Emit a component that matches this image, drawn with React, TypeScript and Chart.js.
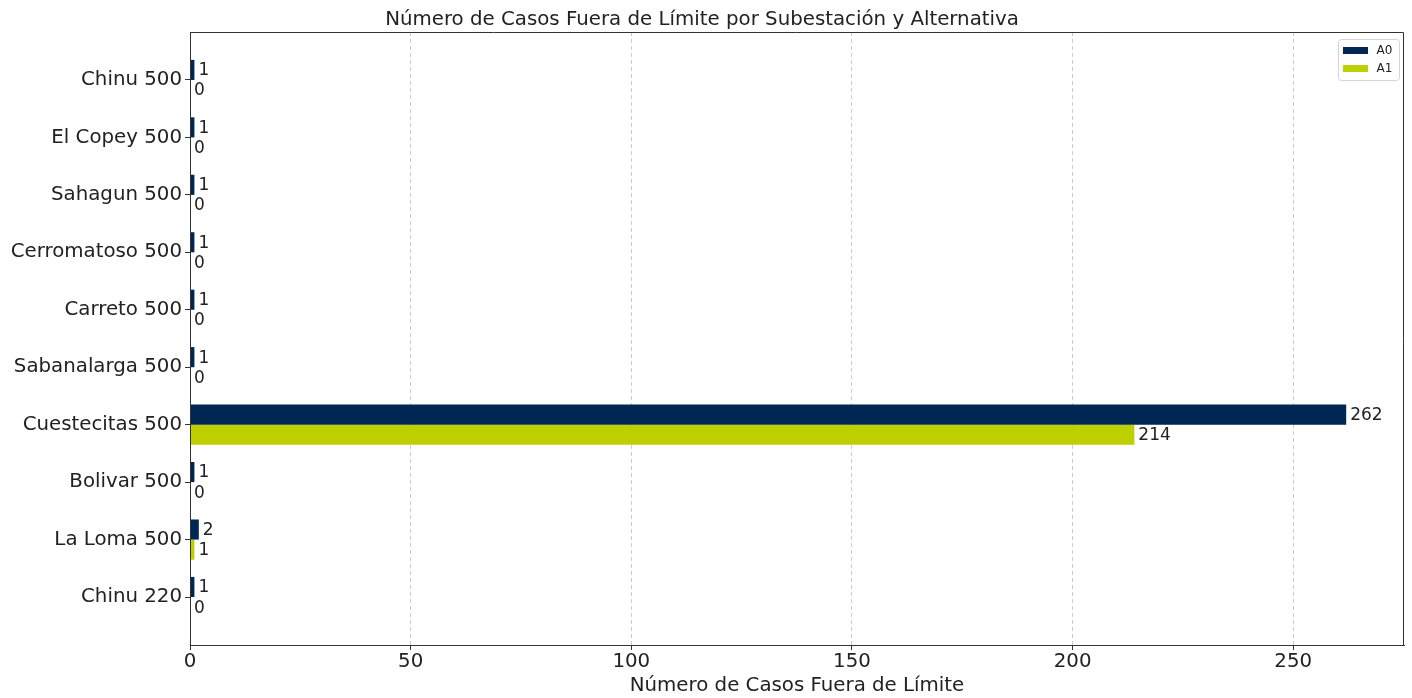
import React, { useEffect, useRef } from "react";
import { Chart, registerables } from "chart.js";

Chart.register(...registerables);

const categories = [
  "Chinu 500",
  "El Copey 500",
  "Sahagun 500",
  "Cerromatoso 500",
  "Carreto 500",
  "Sabanalarga 500",
  "Cuestecitas 500",
  "Bolivar 500",
  "La Loma 500",
  "Chinu 220",
];
const seriesA0 = [1, 1, 1, 1, 1, 1, 262, 1, 2, 1];
const seriesA1 = [0, 0, 0, 0, 0, 0, 214, 0, 1, 0];
const seriesNames = ["A0", "A1"];
const seriesColors = ["#002654", "#bfd000"];
const xTicks = [0, 50, 100, 150, 200, 250];

const FONT = "'DejaVu Sans', sans-serif";
const TEXT = "#222222";

const framePlugin = {
  id: "frame",
  afterDatasetsDraw(chart: any) {
    const { ctx, chartArea } = chart;
    ctx.save();
    ctx.strokeStyle = "#333333";
    ctx.lineWidth = 1;
    ctx.setLineDash([]);
    ctx.beginPath();
    ctx.moveTo(chartArea.left, chartArea.top + 0.5);
    ctx.lineTo(chartArea.right - 0.5, chartArea.top + 0.5);
    ctx.lineTo(chartArea.right - 0.5, chartArea.bottom);
    ctx.stroke();
    ctx.beginPath();
    ctx.moveTo(chartArea.left + 0.5, chartArea.top);
    ctx.lineTo(chartArea.left + 0.5, chartArea.bottom + 0.5);
    ctx.lineTo(chartArea.right, chartArea.bottom + 0.5);
    ctx.stroke();
    ctx.restore();
  },
};

const valueLabelPlugin = {
  id: "valueLabels",
  afterDatasetsDraw(chart: any) {
    const { ctx } = chart;
    ctx.save();
    ctx.font = `17px ${FONT}`;
    ctx.fillStyle = TEXT;
    ctx.textAlign = "left";
    ctx.textBaseline = "middle";
    chart.data.datasets.forEach((ds: any, di: number) => {
      const meta = chart.getDatasetMeta(di);
      meta.data.forEach((bar: any, i: number) => {
        const v = ds.data[i].x;
        ctx.fillText(String(v), bar.x + 4, bar.y + 1);
      });
    });
    ctx.restore();
  },
};

const legendPlugin = {
  id: "customLegend",
  afterDraw(chart: any) {
    const { ctx, chartArea } = chart;
    const w = 61;
    const h = 41;
    const x = chartArea.right - 5 - w;
    const y = chartArea.top + 7;
    ctx.save();
    ctx.setLineDash([]);
    ctx.fillStyle = "rgba(255,255,255,0.8)";
    ctx.strokeStyle = "#d5d5d5";
    ctx.lineWidth = 1;
    ctx.beginPath();
    ctx.roundRect(x + 0.5, y + 0.5, w, h, 3);
    ctx.fill();
    ctx.stroke();
    ctx.font = `12px ${FONT}`;
    ctx.textBaseline = "middle";
    ctx.textAlign = "left";
    chart.data.datasets.forEach((ds: any, i: number) => {
      const cy = y + 11.5 + i * 18;
      ctx.fillStyle = ds.backgroundColor;
      ctx.fillRect(x + 5, cy - 3.5, 25, 7);
      ctx.fillStyle = TEXT;
      ctx.fillText(ds.label, x + 38.5, cy);
    });
    ctx.restore();
  },
};

export default function App() {
  const ref = useRef<HTMLCanvasElement>(null);

  useEffect(() => {
    if (!ref.current) return;
    const idx = categories.map((_, i) => i);
    const chart = new Chart(ref.current, {
      type: "bar",
      data: {
        datasets: [seriesA0, seriesA1].map((vals, k) => ({
          label: seriesNames[k],
          data: vals.map((v, i) => ({ x: v, y: idx[i] })),
          backgroundColor: seriesColors[k],
          borderWidth: 0,
          categoryPercentage: 0.7,
          barPercentage: 1.0,
        })),
      },
      options: {
        indexAxis: "y",
        animation: false,
        responsive: false,
        devicePixelRatio: 1,
        layout: { padding: { left: 0, right: 8, top: 0, bottom: 0 } },
        plugins: {
          legend: { display: false },
          tooltip: { enabled: false },
          title: {
            display: true,
            text: "Número de Casos Fuera de Límite por Subestación y Alternativa",
            color: TEXT,
            font: { family: FONT, size: 19.8, weight: "normal", lineHeight: 1.2 },
            padding: { top: 8, bottom: 0.24 },
          },
        },
        scales: {
          x: {
            type: "linear",
            position: "bottom",
            min: 0,
            max: 275.1,
            afterBuildTicks: (scale: any) => {
              scale.ticks = xTicks.map((v) => ({ value: v }));
            },
            afterFit: (scale: any) => {
              scale.height = 53;
            },
            ticks: {
              color: TEXT,
              font: { family: FONT, size: 19.8 },
              padding: 0,
              maxRotation: 0,
            },
            grid: {
              color: "#cccccc",
              tickBorderDash: [],
              tickColor: "#333333",
              tickLength: 5,
              drawOnChartArea: true,
            },
            border: { color: "#333333", width: 1, dash: [4, 3] },
            title: {
              display: true,
              text: "Número de Casos Fuera de Límite",
              color: TEXT,
              font: { family: FONT, size: 19.8, lineHeight: 1.2 },
              padding: { top: 0, bottom: 0 },
            },
          },
          y: {
            type: "linear",
            reverse: true,
            offset: false,
            min: -0.835,
            max: 9.835,
            afterBuildTicks: (scale: any) => {
              scale.ticks = idx.map((v) => ({ value: v }));
            },
            afterFit: (scale: any) => {
              scale.width = 190;
            },
            ticks: {
              color: TEXT,
              font: { family: FONT, size: 19.8 },
              padding: 3,
              autoSkip: false,
              callback: (v: any) => categories[v as number] ?? "",
            },
            grid: {
              offset: false,
              drawOnChartArea: false,
              tickLength: 5,
              color: "#333333",
            },
            border: { color: "#333333", width: 1 },
          },
        },
      },
      plugins: [framePlugin, valueLabelPlugin, legendPlugin],
    } as any);
    return () => chart.destroy();
  }, []);

  return (
    <div style={{ position: "absolute", left: 0, top: 0, width: 1412, height: 698, background: "#fff" }}>
      <canvas ref={ref} width={1412} height={698} style={{ display: "block" }} />
    </div>
  );
}
